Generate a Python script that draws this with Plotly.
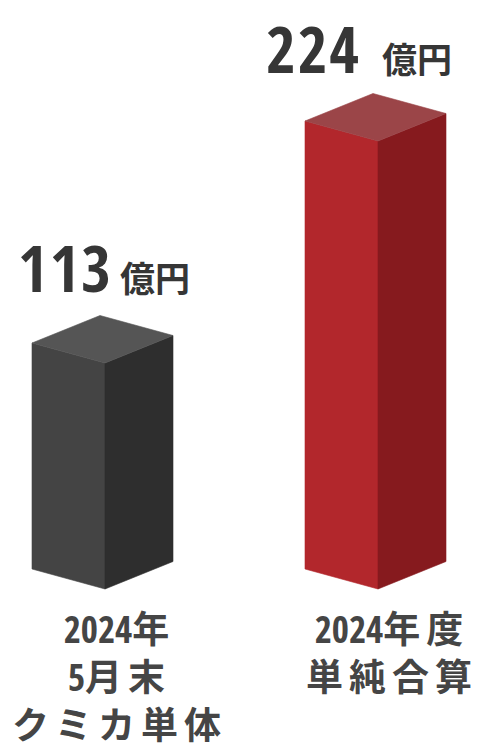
import plotly.graph_objects as go

# ---- data ----
categories = [["2024年", "5月末", "クミカ単体"], ["2024年度", "単純合算"]]
values = [113, 224]
value_labels = ["113", "224"]
unit = "億円"

# ---- style ----
front_colors = ["#444444", "#b2272c"]
side_colors = ["#2e2e2e", "#861a1e"]
top_colors = ["#555555", "#9b4548"]
num_dx = [10, -15]     # px: right edge of number relative to bar front edge
unit_dx = [13, 2]      # px: left edge of unit relative to bar front edge
num_dy = [20, 17]      # px: gap above bar top vertex
W, H = 478, 751
PX_X = 273.0           # px per category step
X0_PX = 105.0          # px of first category
PX_Y = 2.0             # px per value unit
BASE_PX = 589.0        # px of value 0
wl, wr = 73 / PX_X, 68 / PX_X
dl, dr = 20 / PX_Y, 27.5 / PX_Y

NUM_FONT = "Open Sans Condensed, Roboto Condensed, sans-serif"
CJK_FONT = "Noto Sans CJK JP"
TXT = "#363636"
LBL = "#454545"

fig = go.Figure()


def poly(xs, ys, color):
    fig.add_trace(go.Scatter(
        x=xs + [xs[0]], y=ys + [ys[0]], fill="toself", fillcolor=color,
        mode="lines", line=dict(color=color, width=0.6),
        hoverinfo="skip", showlegend=False))


def spaced(line):
    # give full-width characters a little tracking, keep digits tight
    out, run = "", ""
    for ch in line:
        if ord(ch) > 127:
            run += ch
        else:
            if run:
                out += f'<span style="letter-spacing:6px">{run}</span>'
                run = ""
            out += ch
    if run:
        out += f'<span style="letter-spacing:6px">{run}</span>'
    return out


for i, v in enumerate(values):
    c = i
    poly([c - wl, c, c, c - wl], [v + dl, v, 0, dl], front_colors[i])
    poly([c, c + wr, c + wr, c], [v, v + dr, dr, 0], side_colors[i])
    poly([c - wl, c, c + wr, c - wl + wr], [v + dl, v, v + dr, v + dl + dr], top_colors[i])

    top_y = v + dl + dr
    fig.add_annotation(
        x=c, y=top_y, xref="x", yref="y", xanchor="right", yanchor="bottom",
        xshift=num_dx[i], yshift=num_dy[i] - 17, showarrow=False,
        text=f'<span style="letter-spacing:2px">{value_labels[i]}</span>',
        font=dict(family=NUM_FONT, size=64, color=TXT, weight="bold"))
    fig.add_annotation(
        x=c, y=top_y, xref="x", yref="y", xanchor="left", yanchor="bottom",
        xshift=unit_dx[i], yshift=num_dy[i] - 8, showarrow=False,
        text=unit,
        font=dict(family=CJK_FONT, size=35, color=TXT, weight="bold"))

    fig.add_annotation(
        x=c, y=-6, xref="x", yref="y", xanchor="center", yanchor="top",
        xshift=14, showarrow=False, align="center",
        text="<br>".join(spaced(s) for s in categories[i]),
        font=dict(family=NUM_FONT.split(",")[0] + ", " + CJK_FONT, size=37, color=LBL, weight="bold"))

fig.update_layout(
    width=W, height=H, autosize=False,
    margin=dict(l=0, r=0, t=0, b=0),
    paper_bgcolor="white", plot_bgcolor="white",
    xaxis=dict(range=[-X0_PX / PX_X, (W - X0_PX) / PX_X], visible=False, fixedrange=True),
    yaxis=dict(range=[-(H - BASE_PX) / PX_Y, BASE_PX / PX_Y], visible=False, fixedrange=True),
)
fig.write_html("out.html", config={"displayModeBar": False})
